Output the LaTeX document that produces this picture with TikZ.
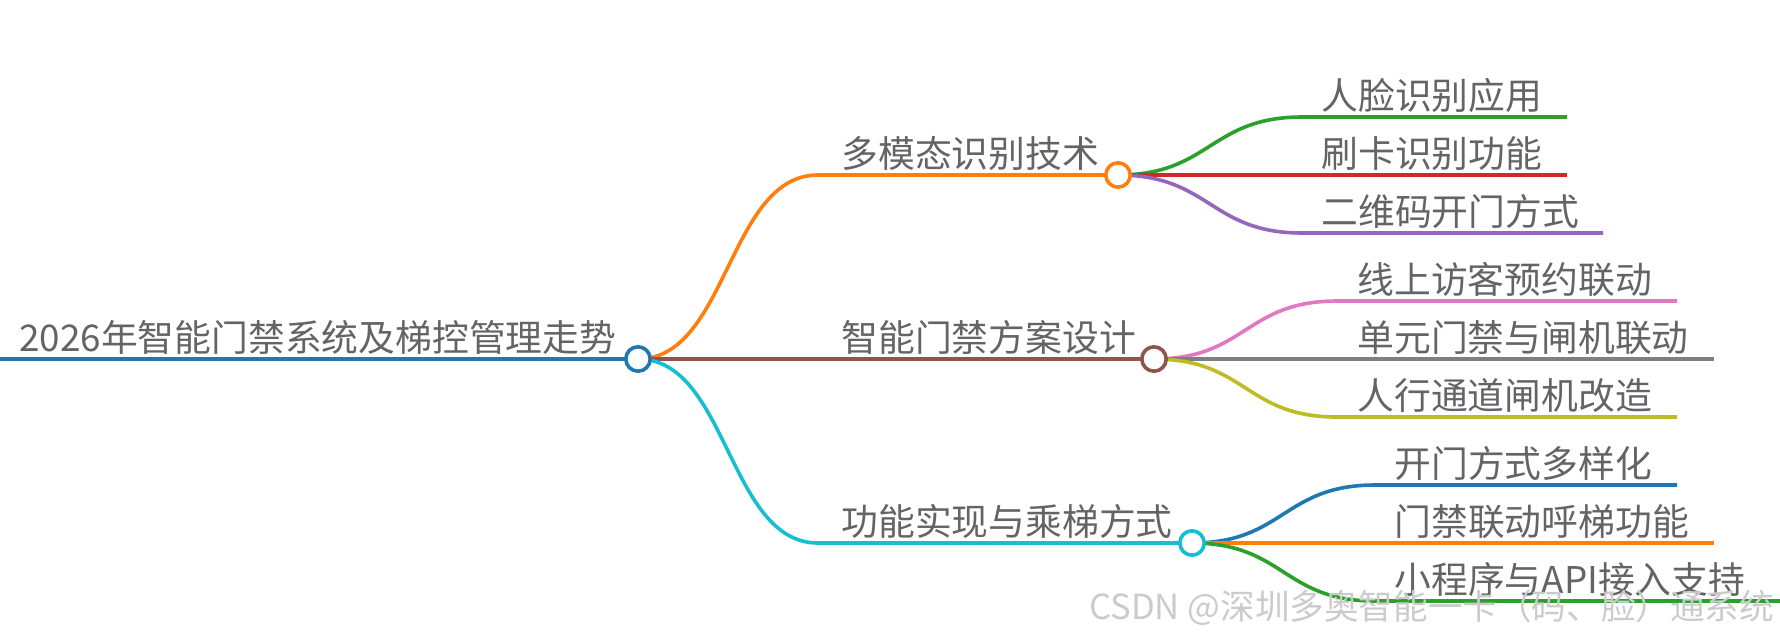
\documentclass[tikz,border=0pt]{standalone}
\usepackage{fontspec}
\setmainfont{Noto Sans CJK SC}
\usetikzlibrary{backgrounds}
\definecolor{cblue}{HTML}{1F77B4}
\definecolor{corange}{HTML}{FF7F0E}
\definecolor{cgreen}{HTML}{2CA02C}
\definecolor{cred}{HTML}{D62728}
\definecolor{cpurple}{HTML}{9467BD}
\definecolor{cbrown}{HTML}{8C564B}
\definecolor{cpink}{HTML}{E377C2}
\definecolor{cgray}{HTML}{7F7F7F}
\definecolor{colive}{HTML}{BCBD22}
\definecolor{ccyan}{HTML}{17BECF}
\definecolor{txtgray}{HTML}{646464}
\definecolor{wmgray}{HTML}{CBCBCB}
\begin{document}
\begin{tikzpicture}[x=0.5pt,y=-0.5pt,
  lbl/.style={anchor=base west, inner sep=0pt, text=txtgray, font=\fontsize{18.4pt}{20pt}\selectfont},
  hub/.style={circle, draw=#1, fill=white, line width=1.8pt, minimum size=12.2pt, inner sep=0pt},
  edge/.style={draw=#1, line width=1.8pt},
  wm/.style={anchor=base west, inner sep=0pt, text=wmgray, font=\fontsize{17.3pt}{20pt}\selectfont}
]
\useasboundingbox (0,0) rectangle (1780,639);
% hubs
\node[hub=cblue] (R) at (638,359) {};
\node[hub=corange] (A) at (1118,175) {};
\node[hub=cbrown] (B) at (1154,359) {};
\node[hub=ccyan] (C) at (1192,543) {};
% anchor coordinates
\coordinate (R0) at (0,359);
\coordinate (Ae) at (818,175);
\coordinate (Ce) at (818,543);
\coordinate (a1s) at (1302,117); \coordinate (a1e) at (1567,117);
\coordinate (a2e) at (1567,175);
\coordinate (a3s) at (1302,233); \coordinate (a3e) at (1603,233);
\coordinate (b1s) at (1337,301); \coordinate (b1e) at (1677,301);
\coordinate (b2e) at (1714,359);
\coordinate (b3s) at (1337,417); \coordinate (b3e) at (1677,417);
\coordinate (c1s) at (1375,485); \coordinate (c1e) at (1677,485);
\coordinate (c2e) at (1714,543);
\coordinate (c3s) at (1375,601); \coordinate (c3e) at (1780,601);
\begin{scope}[on background layer]
\draw[edge=cblue] (R0) -- (R.center);
\draw[edge=corange] (R.center) .. controls +(90,0) and +(-90,0) .. (Ae) -- (A.center);
\draw[edge=cbrown] (R.center) -- (B.center);
\draw[edge=ccyan] (R.center) .. controls +(90,0) and +(-90,0) .. (Ce) -- (C.center);
\draw[edge=cgreen] (A.center) .. controls +(92,0) and +(-92,0) .. (a1s) -- (a1e);
\draw[edge=cred] (A.center) -- (a2e);
\draw[edge=cpurple] (A.center) .. controls +(92,0) and +(-92,0) .. (a3s) -- (a3e);
\draw[edge=cpink] (B.center) .. controls +(92,0) and +(-92,0) .. (b1s) -- (b1e);
\draw[edge=cgray] (B.center) -- (b2e);
\draw[edge=colive] (B.center) .. controls +(92,0) and +(-92,0) .. (b3s) -- (b3e);
\draw[edge=cblue] (C.center) .. controls +(92,0) and +(-92,0) .. (c1s) -- (c1e);
\draw[edge=corange] (C.center) -- (c2e);
\draw[edge=cgreen] (C.center) .. controls +(92,0) and +(-92,0) .. (c3s) -- (c3e);
\end{scope}
% labels
\node[lbl] (tR) at (19,351) {2026年智能门禁系统及梯控管理走势};
\node[lbl] (tA) at (841,167) {多模态识别技术};
\node[lbl] (tB) at (841,351) {智能门禁方案设计};
\node[lbl] (tC) at (841,535) {功能实现与乘梯方式};
\node[lbl] (ta1) at (1321,109) {人脸识别应用};
\node[lbl] (ta2) at (1321,167) {刷卡识别功能};
\node[lbl] (ta3) at (1321,225) {二维码开门方式};
\node[lbl] (tb1) at (1357,293) {线上访客预约联动};
\node[lbl] (tb2) at (1357,351) {单元门禁与闸机联动};
\node[lbl] (tb3) at (1357,409) {人行通道闸机改造};
\node[lbl] (tc1) at (1394,477) {开门方式多样化};
\node[lbl] (tc2) at (1394,535) {门禁联动呼梯功能};
\node[lbl] (tc3) at (1394,593) {小程序与API接入支持};
% watermark
\node[wm] (wm) at (1089,619) {CSDN @深圳多奥智能一卡（码、脸）通系统};
\end{tikzpicture}
\end{document}
